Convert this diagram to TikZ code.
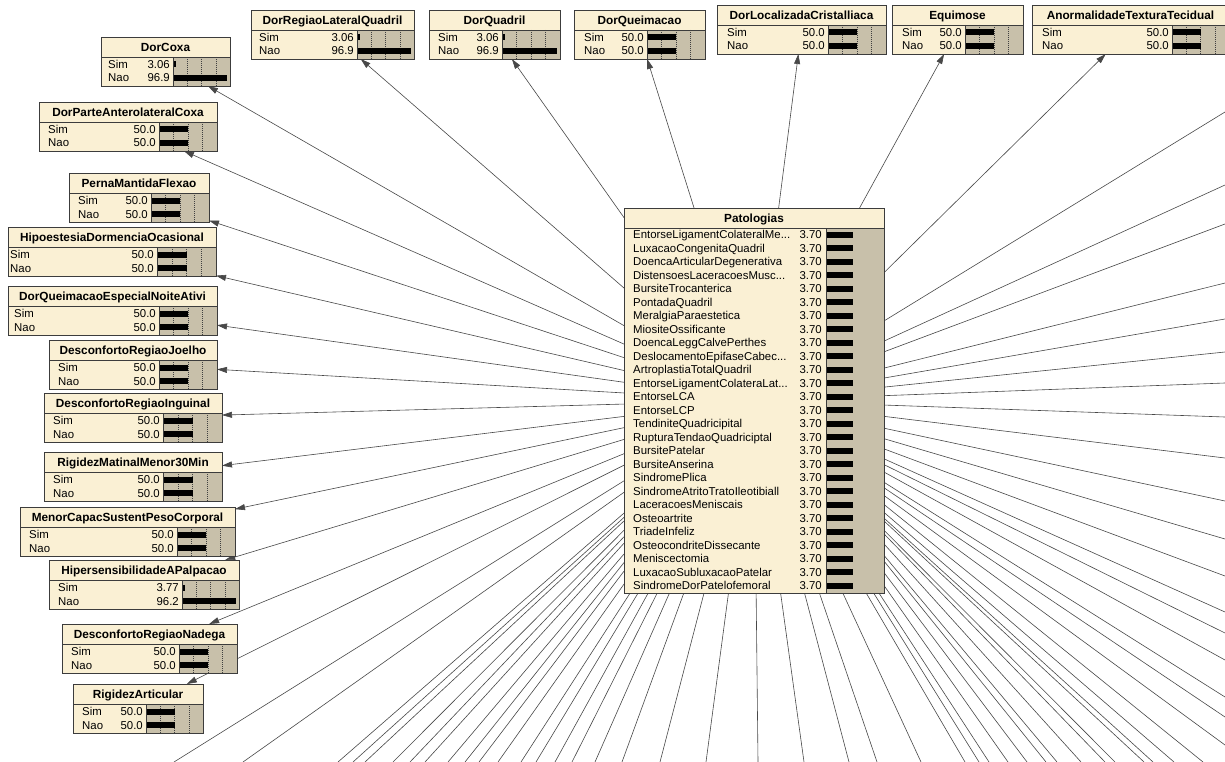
\documentclass[tikz,border=0pt]{standalone}
\usepackage{fontspec}
\setmainfont{Liberation Sans}
\usetikzlibrary{arrows.meta,backgrounds}

\definecolor{nodecream}{RGB}{250,240,212}
\definecolor{bartan}{RGB}{200,192,170}
\definecolor{edgegray}{RGB}{72,72,72}
\definecolor{framegray}{RGB}{60,60,60}

% truncation mark for long state names
\newcommand{\trunc}{...}

\tikzset{
  x=1pt, y=-1pt,
  link/.style={draw=edgegray, line width=0.6pt},
  linkarrow/.style={link, -{Triangle[length=10pt,width=6pt]}},
  bnbox/.style={rectangle, inner sep=0pt, outer sep=0pt, minimum height=49pt},
  frameline/.style={draw=framegray, line width=0.8pt},
  gridline/.style={draw=black!75, line width=0.5pt, dash pattern=on 1pt off 1pt},
  titletext/.style={inner sep=0pt, anchor=base, font=\fontsize{11.8}{13}\selectfont\bfseries},
  statetext/.style={inner sep=0pt, font=\fontsize{11.4}{13}\selectfont},
}

% Belief-bar node: name, left x, top y, width, bar-area x, title, Sim, Nao, label indent
\newcommand{\bnnode}[9]{%
  \node[bnbox, minimum width=#4pt, anchor=north west, fill=nodecream] (#1) at (#2,#3) {};
  \fill[bartan] ({#5},{#3+20}) rectangle ({#2+#4},{#3+49});
  \foreach \g in {0.25,0.5,0.75}
    \draw[gridline] ({#5+\g*(#2+#4-#5)},{#3+20}) -- ++(0,29);
  \pgfmathsetmacro{\barS}{#7/100*(#2+#4-#5-2)}
  \pgfmathsetmacro{\barN}{#8/100*(#2+#4-#5-2)}
  \fill[black] ({#5+1},{#3+24.5}) rectangle ++(\barS,6);
  \fill[black] ({#5+1},{#3+38}) rectangle ++(\barN,6);
  \draw[frameline] ({#2},{#3+20}) -- ({#2+#4},{#3+20});
  \draw[frameline] ({#5},{#3+20}) -- ({#5},{#3+49});
  \node[titletext] at ({#2+#4/2},{#3+14.5}) {#6};
  \node[statetext, anchor=base west] at ({#2+#9},{#3+31.3}) {Sim};
  \node[statetext, anchor=base west] at ({#2+#9},{#3+45}) {Nao};
  \node[statetext, anchor=base east] at ({#5-3},{#3+31.3}) {#7};
  \node[statetext, anchor=base east] at ({#5-3},{#3+45}) {#8};
  \draw[frameline] (#1.north west) rectangle (#1.south east);
}

\begin{document}
\begin{tikzpicture}
\useasboundingbox (0,0) rectangle (1225,762);

% top row
\bnnode{dorregiao}{251}{10}{163}{357}{DorRegiaoLateralQuadril}{3.06}{96.9}{8}
\bnnode{dorquadril}{429}{10}{131}{502}{DorQuadril}{3.06}{96.9}{9}
\bnnode{dorqueim}{574}{10}{131}{647}{DorQueimacao}{50.0}{50.0}{10}
\bnnode{dorcrista}{717}{5}{169}{828}{DorLocalizadaCristalliaca}{50.0}{50.0}{10}
\bnnode{equimose}{892}{5}{131}{965}{Equimose}{50.0}{50.0}{10}
\bnnode{textura}{1032}{5}{197}{1172}{AnormalidadeTexturaTecidual}{50.0}{50.0}{10}

% left column
\bnnode{dorcoxa}{101}{37}{129}{173}{DorCoxa}{3.06}{96.9}{7}
\bnnode{antero}{39}{102}{178}{159}{DorParteAnterolateralCoxa}{50.0}{50.0}{9}
\bnnode{perna}{69}{173}{140}{151}{PernaMantidaFlexao}{50.0}{50.0}{9}
\bnnode{hipo}{8}{227}{208}{157}{HipoestesiaDormenciaOcasional}{50.0}{50.0}{2}
\bnnode{noite}{8}{286}{209}{159}{DorQueimacaoEspecialNoiteAtivi}{50.0}{50.0}{6}
\bnnode{joelho}{49}{340}{168}{159}{DesconfortoRegiaoJoelho}{50.0}{50.0}{9}
\bnnode{inguinal}{44}{393}{178}{163}{DesconfortoRegiaoInguinal}{50.0}{50.0}{9}
\bnnode{matinal}{44}{452}{178}{163}{RigidezMatinalMenor30Min}{50.0}{50.0}{9}
\bnnode{peso}{20}{507}{215}{177}{MenorCapacSustentPesoCorporal}{50.0}{50.0}{9}
\bnnode{palpa}{49}{560}{190}{182}{HipersensibilidadeAPalpacao}{3.77}{96.2}{9}
\bnnode{nadega}{62}{624}{175}{179}{DesconfortoRegiaoNadega}{50.0}{50.0}{9}
\bnnode{rigidez}{73}{684}{130}{146}{RigidezArticular}{50.0}{50.0}{9}

% central node
\node[bnbox, minimum width=260pt, minimum height=385pt, anchor=north west, fill=nodecream] (pat) at (624,208) {};
\fill[bartan] (826,228) rectangle (884,593);
\draw[frameline] (624,228) -- (884,228);
\draw[frameline] (826,228) -- (826,593);
\node[titletext] at (754,222) {Patologias};
\foreach \lbl [count=\i] in {
  EntorseLigamentColateralMe\trunc,
  LuxacaoCongenitaQuadril,
  DoencaArticularDegenerativa,
  DistensoesLaceracoesMusc\trunc,
  BursiteTrocanterica,
  PontadaQuadril,
  MeralgiaParaestetica,
  MiositeOssificante,
  DoencaLeggCalvePerthes,
  DeslocamentoEpifaseCabec\trunc,
  ArtroplastiaTotalQuadril,
  EntorseLigamentColateraLat\trunc,
  EntorseLCA,
  EntorseLCP,
  TendiniteQuadricipital,
  RupturaTendaoQuadriciptal,
  BursitePatelar,
  BursiteAnserina,
  SindromePlica,
  SindromeAtritoTratoIleotibiall,
  LaceracoesMeniscais,
  Osteoartrite,
  TriadeInfeliz,
  OsteocondriteDissecante,
  Meniscectomia,
  LuxacaoSubluxacaoPatelar,
  SindromeDorPatelofemoral}
{
  \pgfmathsetmacro{\rc}{228+13.5*(\i-0.5)}
  \node[statetext, anchor=base west] at ({633},{\rc+4}) {\lbl};
  \node[statetext, anchor=base east] at ({822},{\rc+4}) {3.70};
  \fill[black] ({827},{\rc-3}) rectangle ({853},{\rc+3});
}
\draw[frameline] (pat.north west) rectangle (pat.south east);

% links, drawn beneath the nodes
\begin{pgfonlayer}{background}
  \fill[white] (0,0) rectangle (1225,762);
  \foreach \n in {dorregiao,dorquadril,dorqueim,dorcrista,equimose,textura,
                  dorcoxa,antero,perna,hipo,noite,joelho,inguinal,matinal,
                  peso,palpa,nadega,rigidez}
    \draw[linkarrow] (pat) -- (\n);
  % links leaving through the right edge
  \foreach \yy [count=\i] in {112,185,224,283,319,352,383,417,458,501,539,576,
                              612,633,660,697,717,745}
  {
    \coordinate (east\i) at (1225,\yy);
    \draw[link] (pat) -- (east\i);
  }
  % links leaving through the bottom edge
  \foreach \xx [count=\i] in {1203,1174,1153,1144,1115,1105,1081,1057,1046,1027,1008,
                              989,979,965,921,877,849,804,758,706,660,622,595,572,555,
                              536,521,498,479,465,448,425,410,393,365,353,338,243,174}
  {
    \coordinate (south\i) at (\xx,762);
    \draw[link] (pat) -- (south\i);
  }
\end{pgfonlayer}
\end{tikzpicture}
\end{document}
